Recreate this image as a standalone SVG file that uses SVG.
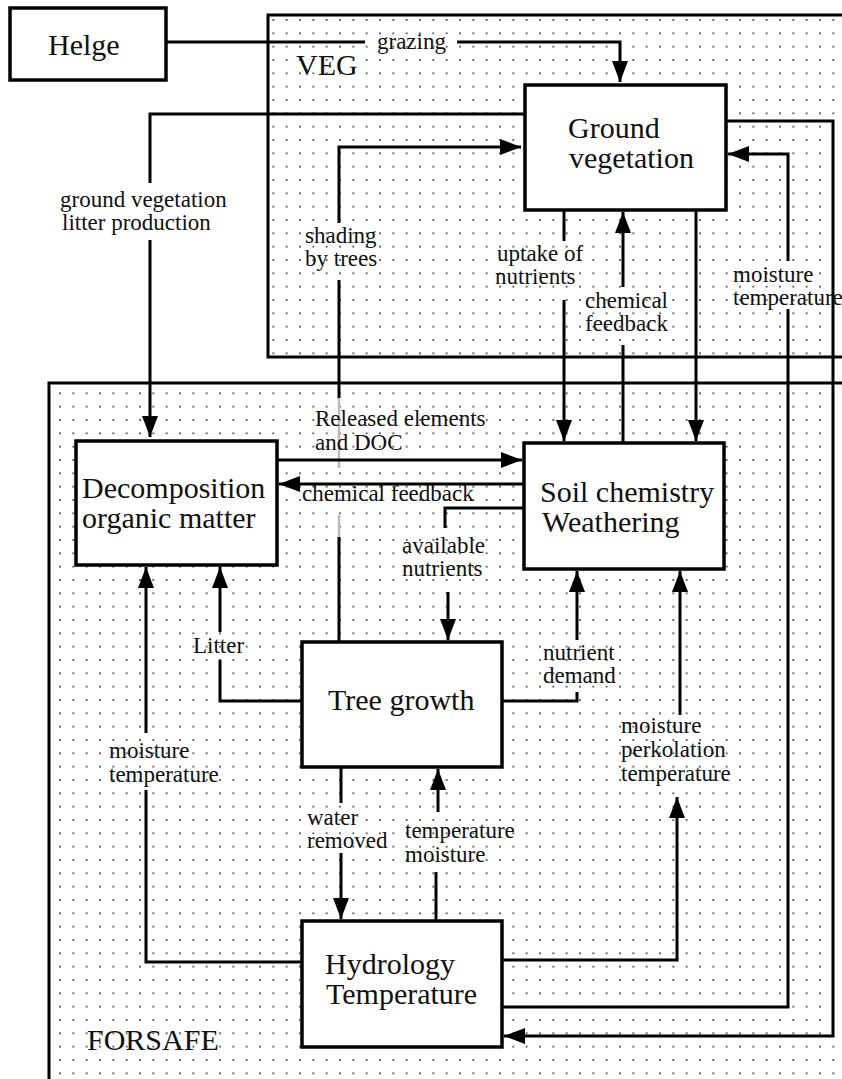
<svg xmlns="http://www.w3.org/2000/svg" width="842" height="1079" viewBox="0 0 842 1079">
<defs>
<style>
.ln{fill:none;stroke:#000;stroke-width:3}
.gr{fill:none;stroke:#bbb;stroke-width:2.5}
.box{fill:#fff;stroke:#000;stroke-width:3.5}
.cont{fill:url(#dots);stroke:#000;stroke-width:3}
.node{font-family:"Liberation Serif","Times New Roman",serif;font-size:30px;fill:#111}
.lbl{font-family:"Liberation Serif","Times New Roman",serif;font-size:23px;fill:#111}
</style>
<pattern id="dots" x="0" y="0" width="13.333" height="13.333" patternUnits="userSpaceOnUse">
<rect width="13.333" height="13.333" fill="#fff"/>
<circle cx="6.67" cy="6.67" r="0.9" fill="#222"/>
</pattern>
<marker id="ah" markerUnits="userSpaceOnUse" markerWidth="23" markerHeight="18" refX="21" refY="8" orient="auto">
<path d="M0,0 L21,8 L0,16 z" fill="#000"/>
</marker>
</defs>
<rect x="0" y="0" width="842" height="1079" fill="#fff"/>

<g id="veg">
<rect class="cont" x="268" y="15" width="700" height="342"/>
<text class="node" x="296" y="75">VEG</text>
</g>
<g id="forsafe">
<rect class="cont" x="49" y="383" width="900" height="800"/>
<text class="node" x="87" y="1050">FORSAFE</text>
</g>

<g id="connectors">
<path class="ln" d="M166,42 H365"/>
<path class="ln" d="M457,42 H620 V82" marker-end="url(#ah)"/>
<path class="ln" d="M525,114 H150 V183"/>
<path class="ln" d="M150,240 V437" marker-end="url(#ah)"/>
<path class="ln" d="M339,642 V537"/>
<path class="gr" d="M339,537 V515"/>
<path class="gr" d="M339,468 V398"/>
<path class="ln" d="M339,398 V280"/>
<path class="ln" d="M339,223 V147 H521" marker-end="url(#ah)"/>
<path class="ln" d="M564,210 V241"/>
<path class="ln" d="M564,300 V441" marker-end="url(#ah)"/>
<path class="ln" d="M623,443 V345"/>
<path class="ln" d="M623,287 V212" marker-end="url(#ah)"/>
<path class="ln" d="M696,210 V441" marker-end="url(#ah)"/>
<path class="ln" d="M502,1007 H788 V309"/>
<path class="ln" d="M788,261 V154 H728" marker-end="url(#ah)"/>
<path class="ln" d="M726,121 H833 V1036 H504" marker-end="url(#ah)"/>
<path class="ln" d="M277,460 H522" marker-end="url(#ah)"/>
<path class="ln" d="M524,484 H279" marker-end="url(#ah)"/>
<path class="ln" d="M524,508 H445 V528"/>
<path class="ln" d="M448,592 V640" marker-end="url(#ah)"/>
<path class="ln" d="M302,701 H220 V660"/>
<path class="ln" d="M220,632 V567" marker-end="url(#ah)"/>
<path class="ln" d="M502,701 H577 V692"/>
<path class="ln" d="M577,640 V571" marker-end="url(#ah)"/>
<path class="ln" d="M302,962 H146 V790"/>
<path class="ln" d="M146,733 V567" marker-end="url(#ah)"/>
<path class="ln" d="M341,767 V803"/>
<path class="ln" d="M341,853 V919" marker-end="url(#ah)"/>
<path class="ln" d="M436,921 V872"/>
<path class="ln" d="M438,812 V769" marker-end="url(#ah)"/>
<path class="ln" d="M502,960 H677 V797" marker-end="url(#ah)"/>
<path class="ln" d="M680,715 V571" marker-end="url(#ah)"/>

<text class="lbl" x="377" y="49">grazing</text>
<text class="lbl" x="60" y="207">ground vegetation</text>
<text class="lbl" x="62" y="230">litter production</text>
<text class="lbl" x="305" y="243">shading</text>
<text class="lbl" x="305" y="266">by trees</text>
<text class="lbl" x="497" y="261">uptake of</text>
<text class="lbl" x="495" y="284">nutrients</text>
<text class="lbl" x="585" y="308">chemical</text>
<text class="lbl" x="585" y="331">feedback</text>
<text class="lbl" x="733" y="282">moisture</text>
<text class="lbl" x="733" y="305">temperature</text>
<text class="lbl" x="315" y="426">Released elements</text>
<text class="lbl" x="315" y="450">and DOC</text>
<text class="lbl" x="302" y="501">chemical feedback</text>
<text class="lbl" x="402" y="553">available</text>
<text class="lbl" x="402" y="576">nutrients</text>
<text class="lbl" x="193" y="653">Litter</text>
<text class="lbl" x="543" y="660">nutrient</text>
<text class="lbl" x="543" y="683">demand</text>
<text class="lbl" x="109" y="758">moisture</text>
<text class="lbl" x="109" y="782">temperature</text>
<text class="lbl" x="621" y="733">moisture</text>
<text class="lbl" x="621" y="757">perkolation</text>
<text class="lbl" x="621" y="781">temperature</text>
<text class="lbl" x="307" y="825">water</text>
<text class="lbl" x="307" y="848">removed</text>
<text class="lbl" x="405" y="838">temperature</text>
<text class="lbl" x="405" y="862">moisture</text>
</g>

<g id="helge">
<rect class="box" x="10" y="8" width="156" height="72"/>
<text class="node" x="48" y="55">Helge</text>
</g>
<g id="ground-vegetation">
<rect class="box" x="525" y="85" width="201" height="125"/>
<text class="node" x="568" y="138">Ground</text>
<text class="node" x="569" y="168">vegetation</text>
</g>
<g id="decomposition">
<rect class="box" x="76" y="441" width="201" height="124"/>
<text class="node" x="82" y="498">Decomposition</text>
<text class="node" x="82" y="528">organic matter</text>
</g>
<g id="soil-chemistry">
<rect class="box" x="524" y="443" width="200" height="126"/>
<text class="node" x="540" y="502">Soil chemistry</text>
<text class="node" x="542" y="532">Weathering</text>
</g>
<g id="tree-growth">
<rect class="box" x="302" y="642" width="200" height="125"/>
<text class="node" x="328" y="710">Tree growth</text>
</g>
<g id="hydrology">
<rect class="box" x="302" y="921" width="200" height="126"/>
<text class="node" x="325" y="974">Hydrology</text>
<text class="node" x="326" y="1004">Temperature</text>
</g>
</svg>
